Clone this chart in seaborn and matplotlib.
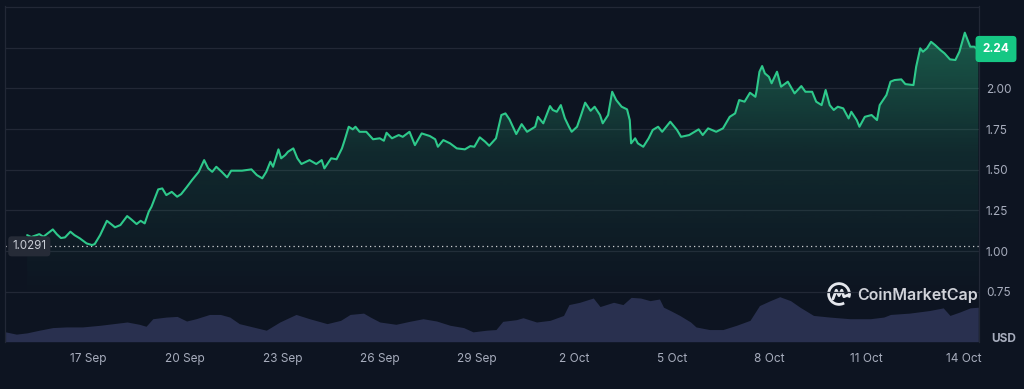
import numpy as np
import pandas as pd
import matplotlib
matplotlib.use("Agg")
import matplotlib.pyplot as plt
import matplotlib.dates as mdates
from matplotlib.colors import LinearSegmentedColormap, to_rgb
from matplotlib.patches import Arc
import seaborn as sns

# ---- data (hours counted from 15 Sep 00:00) ----
price_hours = [3, 6, 12, 15, 22, 25, 28, 31, 35, 38, 42, 47, 51, 53, 57, 62, 66, 68, 72, 77,
               80, 84, 87, 90, 93, 95, 100, 103, 106, 110, 114, 117, 121, 125, 130, 134, 137, 140, 143, 147,
               151, 154, 162, 169, 173, 177, 180, 183, 185, 189, 191, 194, 196, 200, 203, 206, 212, 217, 221, 223,
               228, 232, 236, 238, 241, 244, 246, 249, 254, 259, 264, 267, 269, 273, 278, 281, 286, 290, 295, 301,
               305, 307, 311, 316, 321, 327, 331, 334, 338, 342, 345, 350, 354, 357, 360, 365, 369, 373, 379, 381,
               385, 390, 392, 395, 398, 401, 404, 406, 410, 413, 416, 420, 423, 427, 429, 433, 436, 439, 443, 447,
               449, 450, 453, 455, 459, 463, 466, 470, 473, 479, 484, 487, 493, 500, 503, 507, 513, 518, 523, 527,
               530, 534, 538, 542, 543, 545, 547, 549, 552, 554, 558, 561, 566, 571, 576, 579, 584, 587, 591, 594,
               597, 600, 603, 607, 611, 613, 617, 619, 623, 628, 632, 634, 639, 642, 645, 650, 653, 659, 661, 664,
               666, 669, 672, 675, 679, 682, 686, 690, 693, 697, 701, 704, 707]
price_usd = [1.098, 1.086, 1.104, 1.088, 1.133, 1.103, 1.080, 1.084, 1.119, 1.098, 1.078, 1.047, 1.037, 1.043, 1.098, 1.186, 1.160, 1.146, 1.160, 1.215,
             1.195, 1.166, 1.186, 1.170, 1.242, 1.272, 1.379, 1.385, 1.344, 1.364, 1.334, 1.350, 1.392, 1.436, 1.487, 1.559, 1.508, 1.487, 1.518, 1.487,
             1.453, 1.494, 1.494, 1.502, 1.467, 1.447, 1.487, 1.549, 1.518, 1.625, 1.570, 1.590, 1.610, 1.631, 1.570, 1.535, 1.559, 1.535, 1.559, 1.508,
             1.570, 1.564, 1.631, 1.682, 1.764, 1.748, 1.764, 1.733, 1.733, 1.687, 1.693, 1.678, 1.727, 1.693, 1.713, 1.702, 1.733, 1.651, 1.723, 1.707,
             1.687, 1.641, 1.682, 1.662, 1.631, 1.625, 1.645, 1.641, 1.699, 1.672, 1.647, 1.693, 1.836, 1.846, 1.809, 1.719, 1.780, 1.733, 1.764, 1.825,
             1.785, 1.891, 1.867, 1.856, 1.897, 1.816, 1.764, 1.733, 1.764, 1.836, 1.912, 1.862, 1.887, 1.836, 1.785, 1.836, 1.979, 1.928, 1.887, 1.871,
             1.805, 1.662, 1.693, 1.662, 1.641, 1.693, 1.744, 1.764, 1.733, 1.795, 1.744, 1.702, 1.713, 1.748, 1.713, 1.754, 1.733, 1.754, 1.825, 1.846,
             1.928, 1.918, 1.973, 1.948, 1.990, 2.102, 2.137, 2.092, 2.071, 2.031, 2.102, 2.010, 2.041, 1.969, 2.014, 1.979, 1.979, 1.918, 1.897, 1.990,
             1.897, 1.867, 1.887, 1.877, 1.815, 1.856, 1.805, 1.764, 1.825, 1.836, 1.805, 1.897, 1.959, 2.041, 2.051, 2.055, 2.026, 2.020, 2.133, 2.246,
             2.225, 2.246, 2.286, 2.266, 2.235, 2.215, 2.178, 2.174, 2.225, 2.342, 2.256, 2.256, 2.235]

vol_hours = [-13, -5, 3, 12, 22, 32, 44, 57, 67, 77, 86, 91, 96, 106, 114, 121, 128, 138, 146, 153,
             160, 170, 180, 190, 202, 212, 225, 235, 242, 252, 257, 264, 276, 286, 296, 306, 316, 326, 333, 343,
             350, 355, 365, 370, 380, 390, 400, 404, 412, 422, 427, 437, 444, 450, 457, 464, 471, 474, 479, 486,
             494, 498, 508, 518, 528, 538, 545, 553, 560, 568, 575, 585, 597, 612, 627, 637, 642, 656, 671, 681,
             686, 693, 701, 707]
vol_level = [30, 23, 27, 35, 43, 45, 45, 50, 55, 60, 53, 47, 70, 75, 77, 63, 70, 83, 83, 75,
             55, 45, 35, 60, 83, 70, 55, 65, 83, 87, 75, 60, 53, 62, 70, 63, 50, 43, 30, 35,
             37, 62, 67, 73, 60, 65, 80, 113, 120, 133, 107, 120, 113, 135, 133, 125, 130, 105, 95, 80,
             60, 45, 37, 37, 50, 65, 110, 125, 137, 125, 105, 80, 75, 70, 70, 75, 83, 87, 95, 103,
             80, 90, 103, 105]

start_price = 1.0291
last_price = 2.24
price_ticks = [0.75, 1.00, 1.25, 1.50, 1.75, 2.00, 2.25, 2.50]
tick_days = pd.date_range("2024-09-17", "2024-10-14", freq="3D")

# ---- colours ----
BG = "#0d1421"
GRID = "#222836"
GREEN = "#2ec98b"
TXT = "#a7adbd"
VOL = "#29304f"

start = pd.Timestamp("2024-09-15")
df = pd.DataFrame({"time": start + pd.to_timedelta(price_hours, unit="h"), "price": price_usd})
vol = pd.DataFrame({"time": start + pd.to_timedelta(vol_hours, unit="h"), "volume": vol_level})

sns.set_theme(style="dark", rc={"axes.facecolor": BG, "figure.facecolor": BG,
                                "axes.edgecolor": GRID, "grid.color": GRID})
plt.rcParams["font.family"] = ["Inter", "DejaVu Sans"]

fig = plt.figure(figsize=(10.24, 3.89), dpi=100)
pos = [5 / 1024, 1 - 341.7 / 389, 974 / 1024, 335.7 / 389]
ax = fig.add_axes(pos)
axv = ax.twinx()
ax.set_zorder(axv.get_zorder() + 1)
ax.patch.set_visible(False)

x_min = start - pd.Timedelta(hours=13.4)
x_max = start + pd.Timedelta(hours=707.5)
y_min, y_max = 0.443, 2.506

# volume at the bottom
axv.fill_between(vol["time"], vol["volume"], 0, color=VOL, lw=0)
axv.set_ylim(0, 1022)
axv.set_yticks([])
axv.grid(False)
for s in axv.spines.values():
    s.set_visible(False)

# gradient under the price line (fades out towards 0.7)
rgb = to_rgb(GREEN)
cmap = LinearSegmentedColormap.from_list("fade", [(*rgb, 0.0), (*rgb, 0.12), (*rgb, 0.45)])
grad = np.linspace(0, 1, 256).reshape(-1, 1)
xn = mdates.date2num([x_min, x_max])
poly = ax.fill_between(df["time"], df["price"], y_min, facecolor="none", edgecolor="none")
im = ax.imshow(grad, extent=[xn[0], xn[1], 0.7, y_max], origin="lower",
               aspect="auto", cmap=cmap, zorder=1)
im.set_clip_path(poly.get_paths()[0], transform=ax.transData)

sns.lineplot(data=df, x="time", y="price", ax=ax, color=GREEN, lw=1.5, zorder=3)

ax.axhline(start_price, color="white", lw=0.9, ls=(0, (1, 2.6)), alpha=0.8, zorder=2)

ax.set_xlim(x_min, x_max)
ax.set_ylim(y_min, y_max)
ax.set_xlabel("")
ax.set_ylabel("")

ax.set_xticks(tick_days)
ax.xaxis.set_major_formatter(mdates.DateFormatter("%-d %b"))
ax.yaxis.tick_right()
ax.set_yticks(price_ticks, [f"{v:.2f}" if v <= 2.0 else "" for v in price_ticks])
ax.tick_params(axis="x", length=0, pad=8, labelsize=8.5, labelcolor=TXT)
ax.tick_params(axis="y", length=0, pad=5, labelsize=8.5, labelcolor=TXT)
ax.grid(axis="y", color=GRID, lw=0.9)
ax.grid(axis="x", visible=False)
for side in ["left", "right"]:
    ax.spines[side].set_color(GRID)
    ax.spines[side].set_linewidth(0.9)
ax.spines["top"].set_visible(False)
ax.spines["bottom"].set_visible(False)

# start price tag
trans = matplotlib.transforms.blended_transform_factory(ax.transAxes, ax.transData)
ax.text(0.0075, start_price, "1.0291", transform=trans, ha="left", va="center",
        fontsize=8.3, color="#c9cdd6", zorder=5,
        bbox=dict(boxstyle="round,pad=0.35,rounding_size=0.3", fc="#262b37", ec="none"))

# last price badge
fig.text(996 / 1024, 1 - 49 / 389, f"{last_price:.2f}", ha="center", va="center",
         fontsize=8.5, color="white", fontweight="bold",
         bbox=dict(boxstyle="round,pad=0.6,rounding_size=0.3", fc="#16c784", ec="none"))

fig.text(1004 / 1024, 1 - 339 / 389, "USD", ha="center", va="center",
         fontsize=8.5, color=TXT, fontweight="bold")

# watermark
fig.text(857 / 1024, 1 - 295 / 389, "CoinMarketCap", ha="left", va="center",
         fontsize=11.5, color="#e6e8ee", fontweight="semibold", alpha=0.9)
logo = fig.add_axes([827 / 1024, 1 - 306 / 389, 24 / 1024, 24 / 389])
logo.set_xlim(-1.1, 1.1)
logo.set_ylim(-1.1, 1.1)
logo.axis("off")
logo.patch.set_visible(False)
logo.add_patch(Arc((0, 0), 1.9, 1.9, theta1=-20, theta2=300, color="#e6e8ee", lw=2))
logo.plot([-0.55, -0.25, 0.0, 0.25, 0.45, 0.95], [-0.45, 0.35, -0.15, 0.35, -0.25, -0.05],
          color="#e6e8ee", lw=2, solid_capstyle="round", solid_joinstyle="round")

fig.savefig("out.png", dpi=100, facecolor=BG)
